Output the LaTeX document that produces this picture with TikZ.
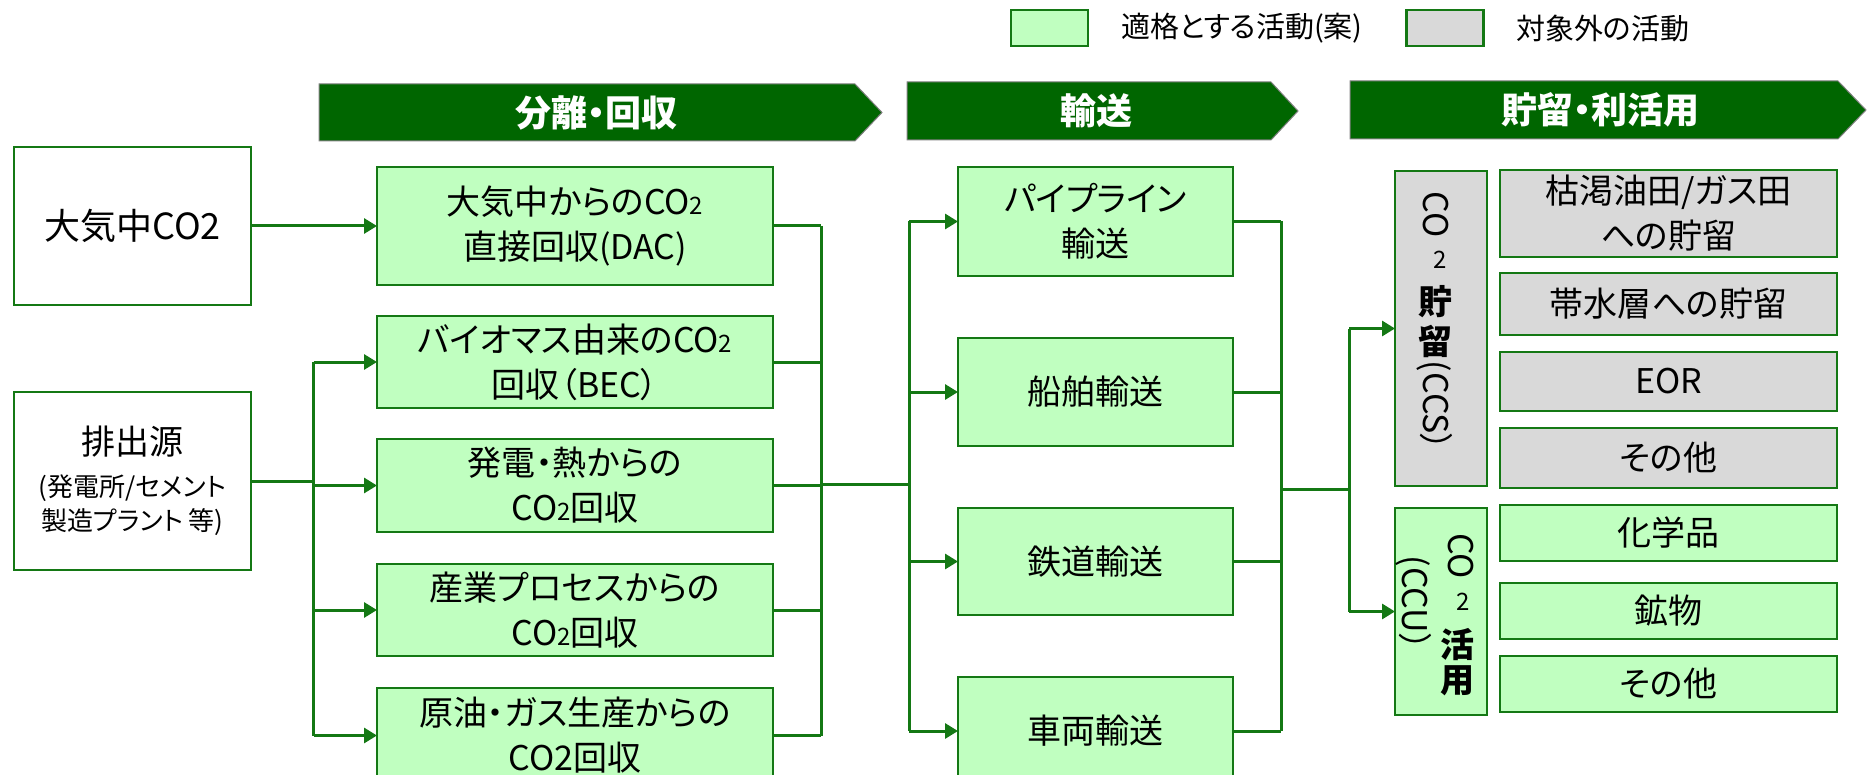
\documentclass[tikz,border=0pt]{standalone}
\usepackage{fontspec}
\setmainfont{Noto Sans CJK JP}[RawFeature=+palt]
\usetikzlibrary{arrows.meta}
\definecolor{lineg}{RGB}{20,120,20}
\definecolor{hdrg}{RGB}{0,102,0}
\definecolor{lgreen}{RGB}{192,255,192}
\definecolor{lgray}{RGB}{217,217,217}
\newcommand\subtwo{{\fontsize{24}{24}\selectfont 2}}
\newcommand\smalltxt{\fontsize{26}{34}\selectfont}
\begin{document}
\begin{tikzpicture}[x=1pt,y=-1pt,
  bx/.style={draw=lineg,line width=2.5pt,align=center,inner sep=0pt,outer sep=0pt,font=\fontsize{34}{45}\selectfont},
  gbox/.style={bx,fill=lgreen},
  ybox/.style={bx,fill=lgray},
  wbox/.style={bx,fill=white},
  c2/.style={gbox,minimum width=396pt},
  c3/.style={gbox,minimum width=275pt},
  rg/.style={ybox,minimum width=337pt},
  rgr/.style={gbox,minimum width=337pt},
  conn/.style={draw=lineg,line width=3pt},
  arr/.style={conn,-{Triangle[length=13pt,width=15pt]}},
  hdr/.style={fill=hdrg,draw=gray,line width=1pt},
  htext/.style={text=white,inner sep=0pt,font=\fontsize{36}{40}\selectfont\bfseries},
  vt/.style={inner sep=0pt,font=\fontsize{34}{34}\selectfont},
  vb/.style={inner sep=0pt,font=\fontsize{34}{34}\selectfont\bfseries},
  vs/.style={inner sep=0pt,font=\fontsize{24}{24}\selectfont},
  lgt/.style={inner sep=0pt,anchor=west,font=\fontsize{29}{29}\selectfont},
]
\useasboundingbox (0,0) rectangle (1867,775);
\clip (0,0) rectangle (1867,775);

% legend
\node[gbox,minimum width=77pt,minimum height=36pt] (lg1) at (1049.5,28) {};
\node[lgt] (lt1) at (1121,28) {適格とする活動(案)};
\node[ybox,minimum width=77pt,minimum height=36pt] (lg2) at (1445,28) {};
\node[lgt] (lt2) at (1516,28) {対象外の活動};

% headers
\path[hdr] (319,84) -- (855,84) -- (882,112.5) -- (855,141) -- (319,141) -- cycle;
\node[htext] (h1) at (596,113) {分離・回収};
\path[hdr] (907,82) -- (1271,82) -- (1298,111) -- (1271,140) -- (907,140) -- cycle;
\node[htext] (h2) at (1096,111) {輸送};
\path[hdr] (1350,81) -- (1838,81) -- (1866,110) -- (1838,139) -- (1350,139) -- cycle;
\node[htext] (h3) at (1600,110) {貯留・利活用};

% sources
\node[wbox,minimum width=237pt,minimum height=158pt,font=\fontsize{36}{45}\selectfont] (atm) at (132.5,226) {大気中CO2};
\node[wbox,minimum width=237pt,minimum height=178pt] (src) at (132.5,481)
  {排出源\\[-3pt]{\smalltxt (発電所/セメント}\\[-11pt]{\smalltxt 製造プラント 等)}};

% capture
\node[c2,minimum height=118pt] (dac) at (575,226) {大気中からのCO\subtwo\\直接回収(DAC)};
\node[c2,minimum height=92pt] (bec) at (575,362) {バイオマス由来のCO\subtwo\\回収（BEC）};
\node[c2,minimum height=93pt] (hat) at (575,485.5) {発電・熱からの\\CO\subtwo 回収};
\node[c2,minimum height=92pt] (san) at (575,610) {産業プロセスからの\\CO\subtwo 回収};
\node[c2,minimum height=95pt] (gen) at (575,735.5) {原油・ガス生産からの\\CO2回収};

% transport
\node[c3,minimum height=109pt] (pipe) at (1095.5,221.5) {パイプライン\\輸送};
\node[c3,minimum height=108pt] (ship) at (1095.5,392) {船舶輸送};
\node[c3,minimum height=107pt] (rail) at (1095.5,561.5) {鉄道輸送};
\node[c3,minimum height=108pt] (car) at (1095.5,731) {車両輸送};

% storage / utilisation
\node[ybox,minimum width=92pt,minimum height=315pt] (ccs) at (1441,328.5) {};
\node[gbox,minimum width=92pt,minimum height=207pt] (ccu) at (1441,611.5) {};
\node[vt,rotate=-90] (ccsCO) at (1436,214.5) {CO};
\node[vs] (ccs2) at (1440,260) {2};
\node[vb] (ccsA) at (1435,302) {貯};
\node[vb] (ccsB) at (1435,341) {留};
\node[vt,rotate=-90] (ccsC) at (1435,406) {(CCS）};
\node[vt,rotate=-90] (ccuCO) at (1461,556) {CO};
\node[vs] (ccu2) at (1463,602) {2};
\node[vb] (ccuA) at (1457,645) {活};
\node[vb] (ccuB) at (1457,681) {用};
\node[vt,rotate=-90] (ccuC) at (1414,603) {(CCU）};

\node[rg,minimum height=87pt] (g1) at (1668.5,213.5) {枯渇油田/ガス田\\への貯留};
\node[rg,minimum height=62pt] (g2) at (1668.5,304) {帯水層への貯留};
\node[rg,minimum height=59pt] (g3) at (1668.5,381.5) {EOR};
\node[rg,minimum height=60pt] (g4) at (1668.5,458) {その他};
\node[rgr,minimum height=56pt] (u1) at (1668.5,533) {化学品};
\node[rgr,minimum height=56pt] (u2) at (1668.5,611) {鉱物};
\node[rgr,minimum height=56pt] (u3) at (1668.5,684) {その他};

% connectors: sources -> capture
\draw[arr] (atm) -- (dac);
\coordinate (bL) at (313.6,481);
\draw[conn] (src.east) -- (bL);
\draw[conn] (bL |- bec.west) -- (bL |- gen.west);
\foreach \n in {bec,hat,san,gen} \draw[arr] (bL |- \n.west) -- (\n.west);

% capture -> transport
\coordinate (bR) at (821,484);
\coordinate (bT) at (909,484);
\foreach \n in {dac,bec,hat,san,gen} \draw[conn] (\n.east) -- (bR |- \n.east);
\draw[conn] (bR |- dac.east) -- (bR |- gen.east);
\draw[conn] (bR) -- (bT);
\draw[conn] (bT |- pipe.west) -- (bT |- car.west);
\foreach \n in {pipe,ship,rail,car} \draw[arr] (bT |- \n.west) -- (\n.west);

% transport -> storage
\coordinate (tR) at (1281,489);
\coordinate (tS) at (1349,489);
\foreach \n in {pipe,ship,rail,car} \draw[conn] (\n.east) -- (tR |- \n.east);
\draw[conn] (tR |- pipe.east) -- (tR |- car.east);
\draw[conn] (tR) -- (tS);
\draw[conn] (tS |- ccs.west) -- (tS |- ccu.west);
\foreach \n in {ccs,ccu} \draw[arr] (tS |- \n.west) -- (\n.west);
\end{tikzpicture}
\end{document}
